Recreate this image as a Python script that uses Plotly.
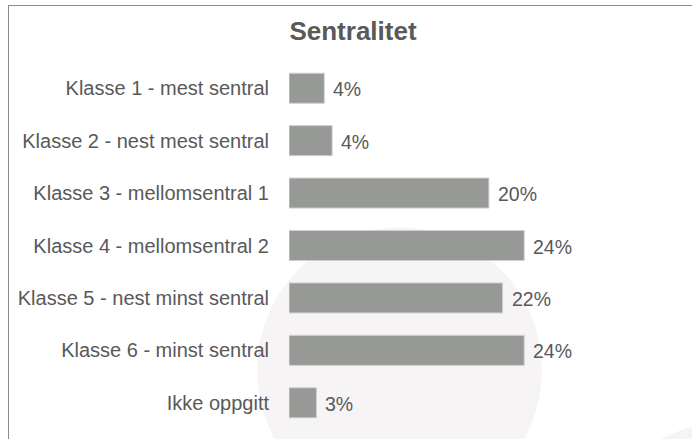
import plotly.graph_objects as go

categories = [
    "Klasse 1 - mest sentral",
    "Klasse 2 - nest mest sentral",
    "Klasse 3 - mellomsentral 1",
    "Klasse 4 - mellomsentral 2",
    "Klasse 5 - nest minst sentral",
    "Klasse 6 - minst sentral",
    "Ikke oppgitt",
]
values = [3.6, 4.4, 20.4, 24.0, 21.8, 24.0, 2.8]
value_labels = ["4%", "4%", "20%", "24%", "22%", "24%", "3%"]
title_text = "Sentralitet"

W, H = 692, 439
L, R, T, B = 289, 109, 62, 10
pw, ph = W - L - R, H - T - B

def px(x):
    return (x - L) / pw

def py(y):
    return (H - B - y) / ph

FONT = "Liberation Sans, Arial, sans-serif"
TXT = "#595959"

fig = go.Figure()
fig.add_trace(go.Bar(
    x=values, y=categories, orientation="h",
    marker=dict(color="#979996", line=dict(color="#d0d0d0", width=1)),
    hoverinfo="skip",
))

annotations = [
    dict(x=v, y=c, xref="x", yref="y", text=t, showarrow=False,
         xanchor="left", yanchor="middle", xshift=7, yshift=-1,
         font=dict(family=FONT, size=19.5, color=TXT))
    for v, c, t in zip(values, categories, value_labels)
]

shapes = [
    # watermark circles
    dict(type="circle", xref="paper", yref="paper", layer="below",
         x0=px(257), x1=px(542), y0=py(227.5), y1=py(512.5),
         fillcolor="#f6f4f5", line=dict(width=0)),
    dict(type="circle", xref="paper", yref="paper", layer="below",
         x0=px(548), x1=px(952), y0=py(418), y1=py(822),
         fillcolor="#f6f4f5", line=dict(width=0)),
    # frame
    dict(type="line", xref="paper", yref="paper", x0=px(8), x1=px(700),
         y0=py(5.5), y1=py(5.5), line=dict(color="#8c8c8c", width=1)),
    dict(type="line", xref="paper", yref="paper", x0=px(8.5), x1=px(8.5),
         y0=py(5.5), y1=py(450), line=dict(color="#8c8c8c", width=1)),
]

fig.update_layout(
    width=W, height=H,
    margin=dict(l=L, r=R, t=T, b=B),
    paper_bgcolor="white", plot_bgcolor="rgba(0,0,0,0)",
    bargap=0.427,
    showlegend=False,
    shapes=shapes,
    annotations=annotations,
    title=dict(text="<b>" + title_text + "</b>", x=353 / W, xref="container",
               xanchor="center", y=1 - 31 / H, yref="container", yanchor="middle",
               font=dict(family=FONT, size=26, color=TXT)),
    xaxis=dict(range=[0, 30], visible=False),
    yaxis=dict(autorange="reversed", showline=False, showgrid=False,
               ticks="", ticklabelstandoff=19,
               tickfont=dict(family=FONT, size=20, color=TXT)),
)

fig.write_html("out.html", config={"displayModeBar": False},
               post_script="document.body.style.margin='0';")
